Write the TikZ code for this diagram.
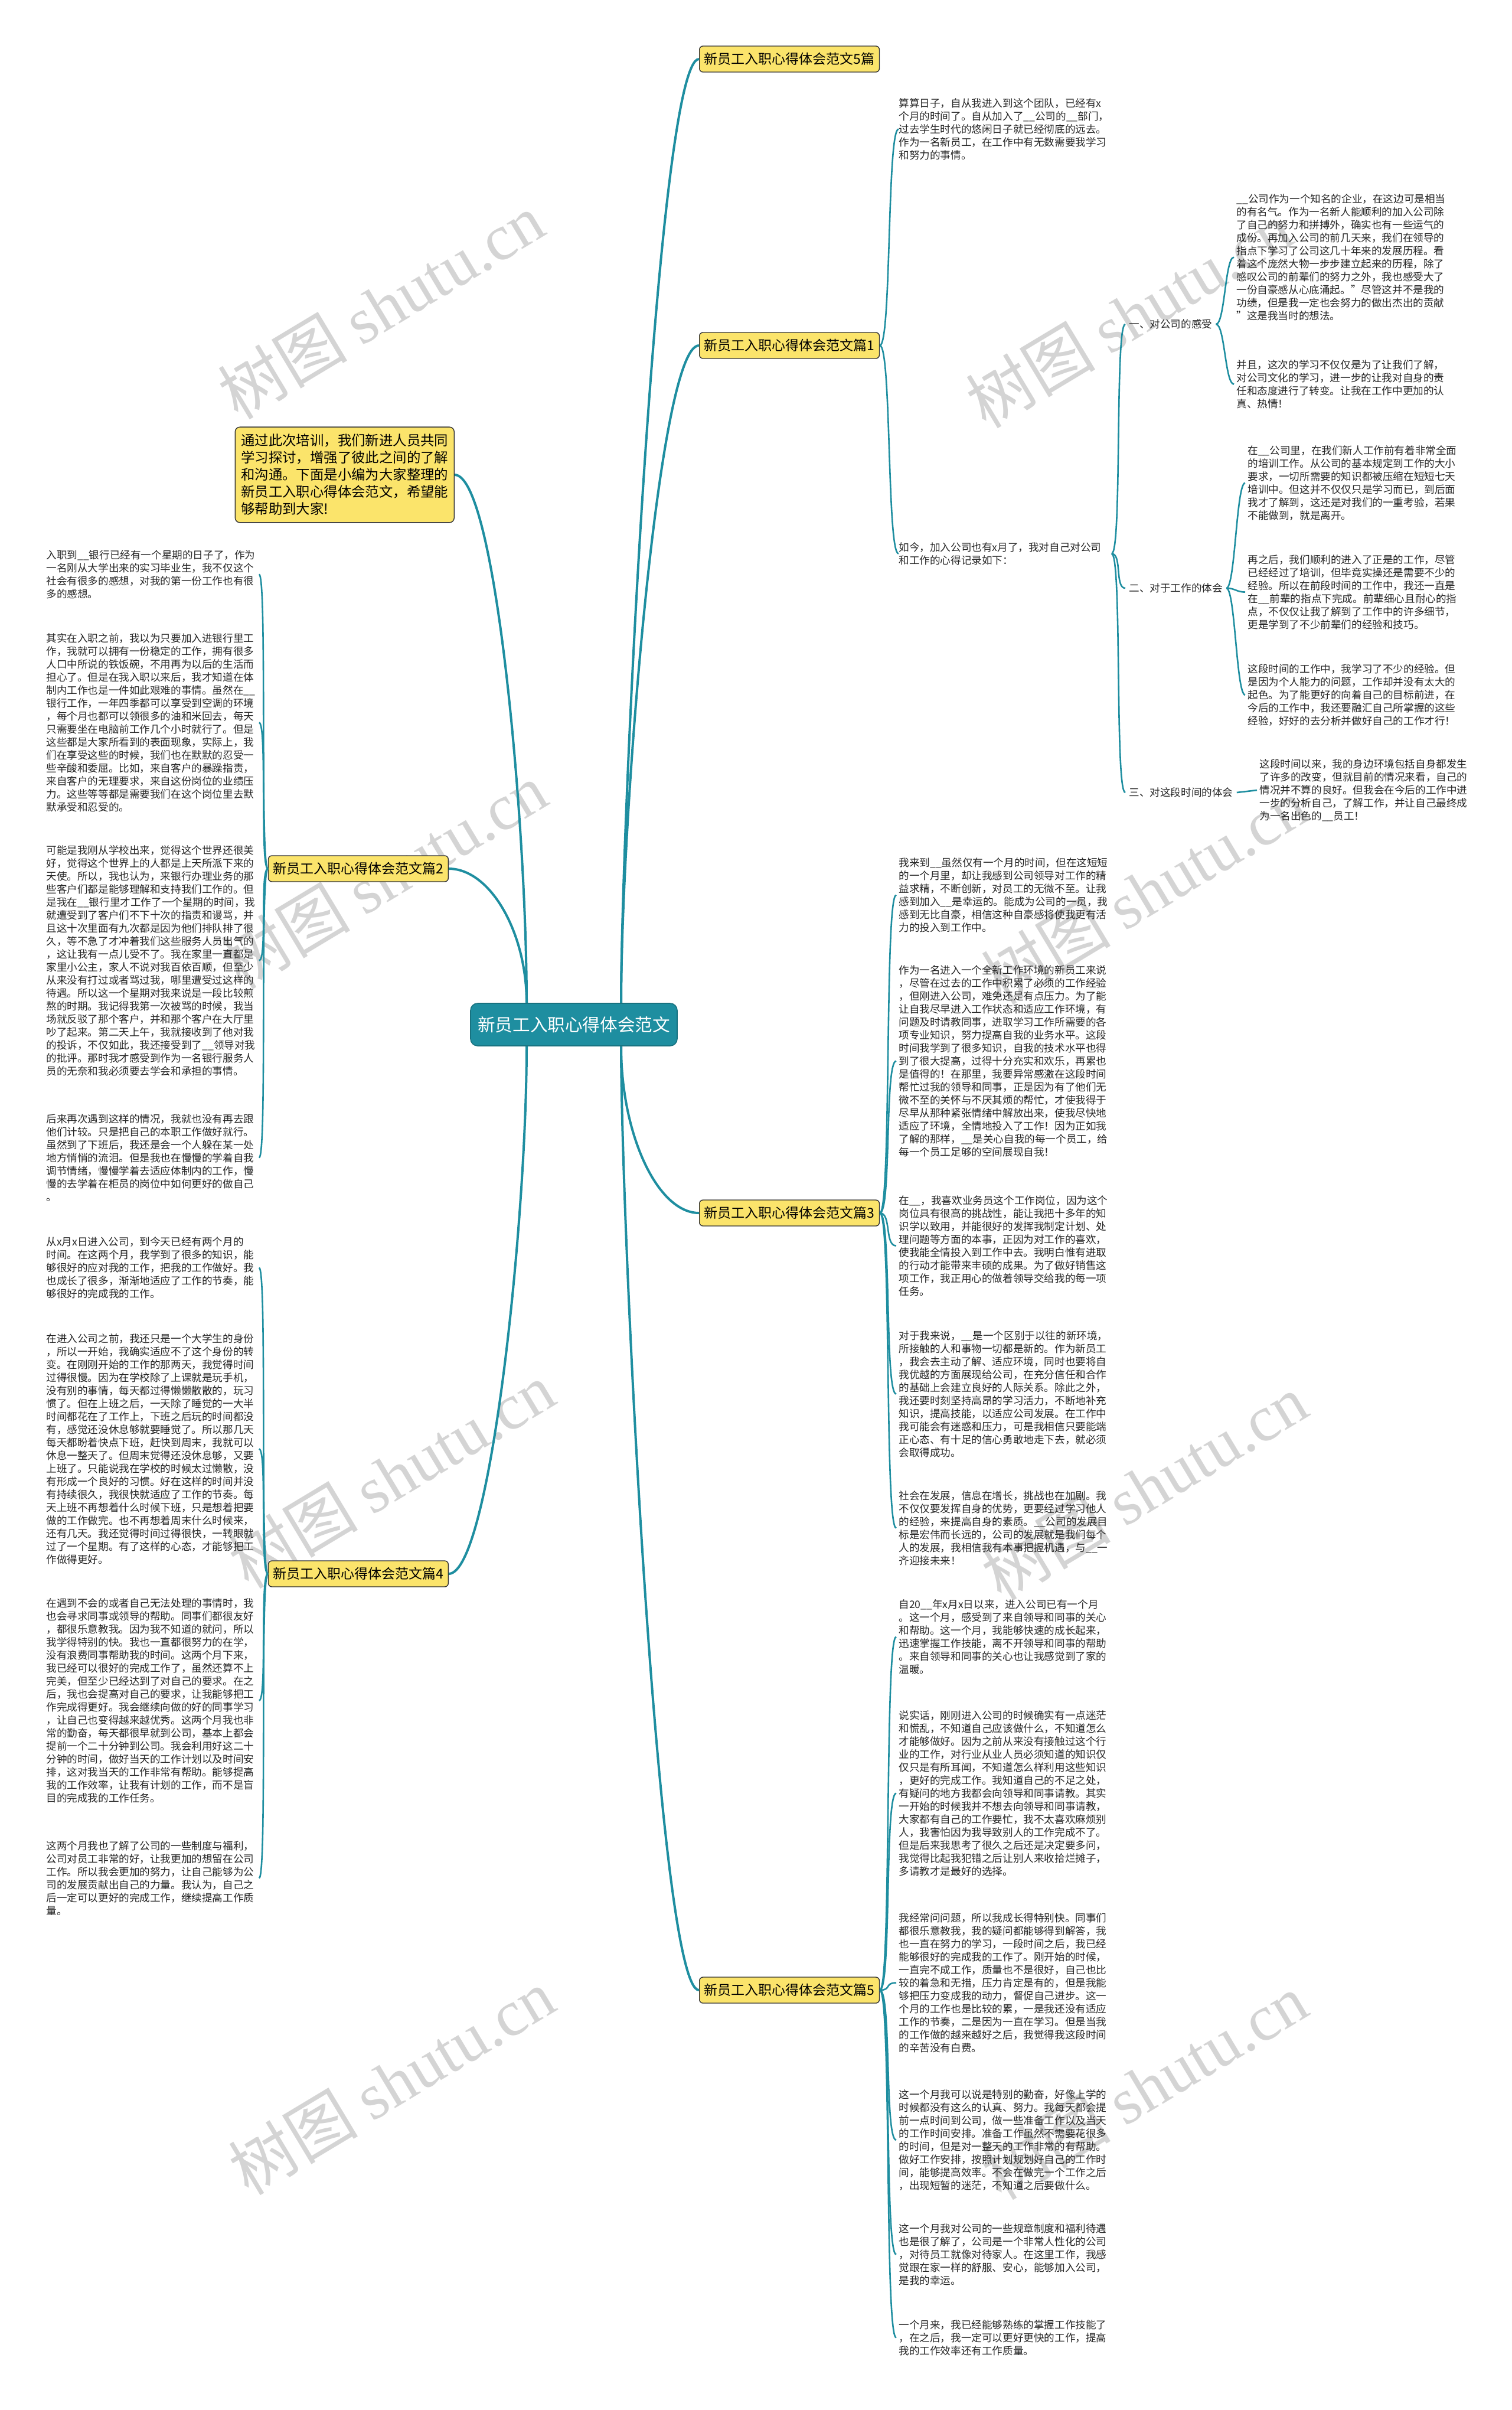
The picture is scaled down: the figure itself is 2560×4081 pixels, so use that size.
\documentclass[tikz,border=0pt]{standalone}
\usepackage{fontspec}
\setmainfont{Noto Sans CJK SC}
\newfontfamily\wmlatin{Liberation Serif}
\definecolor{teal1}{RGB}{30,142,160}
\definecolor{ylw}{RGB}{251,228,107}
\definecolor{wm}{RGB}{212,212,212}
\begin{document}
\begin{tikzpicture}[x=0.5pt,y=-0.5pt,
  body/.style={inner sep=0pt, anchor=north west, align=left, text width=178pt, font=\fontsize{8.8pt}{11pt}\selectfont, text=black!85},
  lbl/.style={inner sep=0pt, anchor=west, font=\fontsize{8.8pt}{11pt}\selectfont, text=black!85},
  branch/.style={draw=black!80, line width=0.7pt, fill=ylw, rounded corners=3pt, inner xsep=4pt, inner ysep=0pt, minimum height=22pt, font=\fontsize{11.5pt}{13pt}\selectfont},
  conn/.style={draw=teal1, line width=1.3pt},
  mainconn/.style={draw=teal1, line width=2pt},
  wmark/.style={text=wm, rotate=31, font=\fontsize{55pt}{55pt}\selectfont}
]
\useasboundingbox (0,0) rectangle (2560,4081);
\fill[white] (0,0) rectangle (2560,4081);
% watermarks
\foreach \wx/\wy [count=\i] in {645/518,1912/533,650/1483,1938/1509,663/2498,1938/2518,663/3525,1938/3533}
  \node[wmark] (wm\i) at (\wx,\wy) {树图 {\wmlatin shutu.cn}};

% center
\node[fill=teal1, draw=teal1!80!black, line width=0.8pt, text=white, rounded corners=6pt, minimum width=175pt, minimum height=36pt, font=\fontsize{14.8pt}{16pt}\selectfont] (c) at (972,1735) {新员工入职心得体会范文};

% branches
\node[branch, anchor=west] (b0) at (1184,100) {新员工入职心得体会范文5篇};
\node[branch, anchor=west] (b1) at (1184,585) {新员工入职心得体会范文篇1};
\node[branch, anchor=east] (b2) at (760,1471) {新员工入职心得体会范文篇2};
\node[branch, anchor=west] (b3) at (1184,2054) {新员工入职心得体会范文篇3};
\node[branch, anchor=east] (b4) at (760,2665) {新员工入职心得体会范文篇4};
\node[branch, anchor=west] (b5) at (1184,3370) {新员工入职心得体会范文篇5};
\node[draw=black!80, line width=0.7pt, fill=ylw, rounded corners=4pt, inner xsep=5pt, inner ysep=6pt, anchor=east, align=left, font=\fontsize{11.7pt}{14.5pt}\selectfont] (intro) at (770,804) {通过此次培训，我们新进人员共同\\学习探讨，增强了彼此之间的了解\\和沟通。下面是小编为大家整理的\\新员工入职心得体会范文，希望能\\够帮助到大家!};

% branch 1
\node[body] (r1a) at (1522,166) {算算日子，自从我进入到这个团队，已经有x\\个月的时间了。自从加入了\_\_公司的\_\_部门，\\过去学生时代的悠闲日子就已经彻底的远去。\\作为一名新员工，在工作中有无数需要我学习\\和努力的事情。};
\node[body] (rj) at (1522,918) {如今，加入公司也有x月了，我对自己对公司\\和工作的心得记录如下：};
\node[lbl] (la) at (1912,549) {一、对公司的感受};
\node[lbl] (lb) at (1912,996) {二、对于工作的体会};
\node[lbl] (lc) at (1912,1342) {三、对这段时间的体会};
\node[body] (ta) at (2094,328) {\_\_公司作为一个知名的企业，在这边可是相当\\的有名气。作为一名新人能顺利的加入公司除\\了自己的努力和拼搏外，确实也有一些运气的\\成份。再加入公司的前几天来，我们在领导的\\指点下学习了公司这几十年来的发展历程。看\\着这个庞然大物一步步建立起来的历程，除了\\感叹公司的前辈们的努力之外，我也感受大了\\一份自豪感从心底涌起。"尽管这并不是我的\\功绩，但是我一定也会努力的做出杰出的贡献\\"这是我当时的想法。};
\node[body] (tb) at (2094,609) {并且，这次的学习不仅仅是为了让我们了解，\\对公司文化的学习，进一步的让我对自身的责\\任和态度进行了转变。让我在工作中更加的认\\真、热情！};
\node[body] (tc) at (2113,754) {在\_\_公司里，在我们新人工作前有着非常全面\\的培训工作。从公司的基本规定到工作的大小\\要求，一切所需要的知识都被压缩在短短七天\\培训中。但这并不仅仅只是学习而已，到后面\\我才了解到，这还是对我们的一重考验，若果\\不能做到，就是离开。};
\node[body] (td) at (2113,939) {再之后，我们顺利的进入了正是的工作，尽管\\已经经过了培训，但毕竟实操还是需要不少的\\经验。所以在前段时间的工作中，我还一直是\\在\_\_前辈的指点下完成。前辈细心且耐心的指\\点，不仅仅让我了解到了工作中的许多细节，\\更是学到了不少前辈们的经验和技巧。};
\node[body] (te) at (2113,1124) {这段时间的工作中，我学习了不少的经验。但\\是因为个人能力的问题，工作却并没有太大的\\起色。为了能更好的向着自己的目标前进，在\\今后的工作中，我还要融汇自己所掌握的这些\\经验，好好的去分析并做好自己的工作才行！};
\node[body] (tf) at (2133,1285) {这段时间以来，我的身边环境包括自身都发生\\了许多的改变，但就目前的情况来看，自己的\\情况并不算的良好。但我会在今后的工作中进\\一步的分析自己，了解工作，并让自己最终成\\为一名出色的\_\_员工！};

% branch 2
\node[body] (l1) at (78,931) {入职到\_\_银行已经有一个星期的日子了，作为\\一名刚从大学出来的实习毕业生，我不仅这个\\社会有很多的感想，对我的第一份工作也有很\\多的感想。};
\node[body] (l2) at (78,1072) {其实在入职之前，我以为只要加入进银行里工\\作，我就可以拥有一份稳定的工作，拥有很多\\人口中所说的铁饭碗，不用再为以后的生活而\\担心了。但是在我入职以来后，我才知道在体\\制内工作也是一件如此艰难的事情。虽然在\_\_\\银行工作，一年四季都可以享受到空调的环境\\，每个月也都可以领很多的油和米回去，每天\\只需要坐在电脑前工作几个小时就行了。但是\\这些都是大家所看到的表面现象，实际上，我\\们在享受这些的时候，我们也在默默的忍受一\\些辛酸和委屈。比如，来自客户的暴躁指责，\\来自客户的无理要求，来自这份岗位的业绩压\\力。这些等等都是需要我们在这个岗位里去默\\默承受和忍受的。};
\node[body] (l3) at (78,1431) {可能是我刚从学校出来，觉得这个世界还很美\\好，觉得这个世界上的人都是上天所派下来的\\天使。所以，我也认为，来银行办理业务的那\\些客户们都是能够理解和支持我们工作的。但\\是我在\_\_银行里才工作了一个星期的时间，我\\就遭受到了客户们不下十次的指责和谩骂，并\\且这十次里面有九次都是因为他们排队排了很\\久，等不急了才冲着我们这些服务人员出气的\\，这让我有一点儿受不了。我在家里一直都是\\家里小公主，家人不说对我百依百顺，但至少\\从来没有打过或者骂过我，哪里遭受过这样的\\待遇。所以这一个星期对我来说是一段比较煎\\熬的时期。我记得我第一次被骂的时候，我当\\场就反驳了那个客户，并和那个客户在大厅里\\吵了起来。第二天上午，我就接收到了他对我\\的投诉，不仅如此，我还接受到了\_\_领导对我\\的批评。那时我才感受到作为一名银行服务人\\员的无奈和我必须要去学会和承担的事情。};
\node[body] (l4) at (78,1886) {后来再次遇到这样的情况，我就也没有再去跟\\他们计较。只是把自己的本职工作做好就行。\\虽然到了下班后，我还是会一个人躲在某一处\\地方悄悄的流泪。但是我也在慢慢的学着自我\\调节情绪，慢慢学着去适应体制内的工作，慢\\慢的去学着在柜员的岗位中如何更好的做自己\\。};

% branch 4
\node[body] (l5) at (78,2094) {从x月x日进入公司，到今天已经有两个月的\\时间。在这两个月，我学到了很多的知识，能\\够很好的应对我的工作，把我的工作做好。我\\也成长了很多，渐渐地适应了工作的节奏，能\\够很好的完成我的工作。};
\node[body] (l6) at (78,2258) {在进入公司之前，我还只是一个大学生的身份\\，所以一开始，我确实适应不了这个身份的转\\变。在刚刚开始的工作的那两天，我觉得时间\\过得很慢。因为在学校除了上课就是玩手机，\\没有别的事情，每天都过得懒懒散散的，玩习\\惯了。但在上班之后，一天除了睡觉的一大半\\时间都花在了工作上，下班之后玩的时间都没\\有，感觉还没休息够就要睡觉了。所以那几天\\每天都盼着快点下班，赶快到周末，我就可以\\休息一整天了。但周末觉得还没休息够，又要\\上班了。只能说我在学校的时候太过懒散，没\\有形成一个良好的习惯。好在这样的时间并没\\有持续很久，我很快就适应了工作的节奏。每\\天上班不再想着什么时候下班，只是想着把要\\做的工作做完。也不再想着周末什么时候来，\\还有几天。我还觉得时间过得很快，一转眼就\\过了一个星期。有了这样的心态，才能够把工\\作做得更好。};
\node[body] (l7) at (78,2706) {在遇到不会的或者自己无法处理的事情时，我\\也会寻求同事或领导的帮助。同事们都很友好\\，都很乐意教我。因为我不知道的就问，所以\\我学得特别的快。我也一直都很努力的在学，\\没有浪费同事帮助我的时间。这两个月下来，\\我已经可以很好的完成工作了，虽然还算不上\\完美，但至少已经达到了对自己的要求。在之\\后，我也会提高对自己的要求，让我能够把工\\作完成得更好。我会继续向做的好的同事学习\\，让自己也变得越来越优秀。这两个月我也非\\常的勤奋，每天都很早就到公司，基本上都会\\提前一个二十分钟到公司。我会利用好这二十\\分钟的时间，做好当天的工作计划以及时间安\\排，这对我当天的工作非常有帮助。能够提高\\我的工作效率，让我有计划的工作，而不是盲\\目的完成我的工作任务。};
\node[body] (l8) at (78,3117) {这两个月我也了解了公司的一些制度与福利，\\公司对员工非常的好，让我更加的想留在公司\\工作。所以我会更加的努力，让自己能够为公\\司的发展贡献出自己的力量。我认为，自己之\\后一定可以更好的完成工作，继续提高工作质\\量。};

% branch 3
\node[body] (r3a) at (1522,1452) {我来到\_\_虽然仅有一个月的时间，但在这短短\\的一个月里，却让我感到公司领导对工作的精\\益求精，不断创新，对员工的无微不至。让我\\感到加入\_\_是幸运的。能成为公司的一员，我\\感到无比自豪，相信这种自豪感将使我更有活\\力的投入到工作中。};
\node[body] (r3b) at (1522,1634) {作为一名进入一个全新工作环境的新员工来说\\，尽管在过去的工作中积累了必须的工作经验\\，但刚进入公司，难免还是有点压力。为了能\\让自我尽早进入工作状态和适应工作环境，有\\问题及时请教同事，进取学习工作所需要的各\\项专业知识，努力提高自我的业务水平。这段\\时间我学到了很多知识，自我的技术水平也得\\到了很大提高，过得十分充实和欢乐，再累也\\是值得的！在那里，我要异常感激在这段时间\\帮忙过我的领导和同事，正是因为有了他们无\\微不至的关怀与不厌其烦的帮忙，才使我得于\\尽早从那种紧张情绪中解放出来，使我尽快地\\适应了环境，全情地投入了工作！因为正如我\\了解的那样，\_\_是关心自我的每一个员工，给\\每一个员工足够的空间展现自我！};
\node[body] (r3c) at (1522,2024) {在\_\_，我喜欢业务员这个工作岗位，因为这个\\岗位具有很高的挑战性，能让我把十多年的知\\识学以致用，并能很好的发挥我制定计划、处\\理问题等方面的本事，正因为对工作的喜欢，\\使我能全情投入到工作中去。我明白惟有进取\\的行动才能带来丰硕的成果。为了做好销售这\\项工作，我正用心的做着领导交给我的每一项\\任务。};
\node[body] (r3d) at (1522,2253) {对于我来说，\_\_是一个区别于以往的新环境，\\所接触的人和事物一切都是新的。作为新员工\\，我会去主动了解、适应环境，同时也要将自\\我优越的方面展现给公司，在充分信任和合作\\的基础上会建立良好的人际关系。除此之外，\\我还要时刻坚持高昂的学习活力，不断地补充\\知识，提高技能，以适应公司发展。在工作中\\我可能会有迷惑和压力，可是我相信只要能端\\正心态、有十足的信心勇敢地走下去，就必须\\会取得成功。};
\node[body] (r3e) at (1522,2524) {社会在发展，信息在增长，挑战也在加剧。我\\不仅仅要发挥自身的优势，更要经过学习他人\\的经验，来提高自身的素质。\_\_公司的发展目\\标是宏伟而长远的，公司的发展就是我们每个\\人的发展，我相信我有本事把握机遇，与\_\_一\\齐迎接未来！};

% branch 5
\node[body] (r5a) at (1522,2708) {自20\_\_年x月x日以来，进入公司已有一个月\\。这一个月，感受到了来自领导和同事的关心\\和帮助。这一个月，我能够快速的成长起来，\\迅速掌握工作技能，离不开领导和同事的帮助\\。来自领导和同事的关心也让我感觉到了家的\\温暖。};
\node[body] (r5b) at (1522,2896) {说实话，刚刚进入公司的时候确实有一点迷茫\\和慌乱，不知道自己应该做什么，不知道怎么\\才能够做好。因为之前从来没有接触过这个行\\业的工作，对行业从业人员必须知道的知识仅\\仅只是有所耳闻，不知道怎么样利用这些知识\\，更好的完成工作。我知道自己的不足之处，\\有疑问的地方我都会向领导和同事请教。其实\\一开始的时候我并不想去向领导和同事请教，\\大家都有自己的工作要忙，我不太喜欢麻烦别\\人，我害怕因为我导致别人的工作完成不了。\\但是后来我思考了很久之后还是决定要多问，\\我觉得比起我犯错之后让别人来收拾烂摊子，\\多请教才是最好的选择。};
\node[body] (r5c) at (1522,3239) {我经常问问题，所以我成长得特别快。同事们\\都很乐意教我，我的疑问都能够得到解答，我\\也一直在努力的学习，一段时间之后，我已经\\能够很好的完成我的工作了。刚开始的时候，\\一直完不成工作，质量也不是很好，自己也比\\较的着急和无措，压力肯定是有的，但是我能\\够把压力变成我的动力，督促自己进步。这一\\个月的工作也是比较的累，一是我还没有适应\\工作的节奏，二是因为一直在学习。但是当我\\的工作做的越来越好之后，我觉得我这段时间\\的辛苦没有白费。};
\node[body] (r5d) at (1522,3538) {这一个月我可以说是特别的勤奋，好像上学的\\时候都没有这么的认真、努力。我每天都会提\\前一点时间到公司，做一些准备工作以及当天\\的工作时间安排。准备工作虽然不需要花很多\\的时间，但是对一整天的工作非常的有帮助。\\做好工作安排，按照计划规划好自己的工作时\\间，能够提高效率。不会在做完一个工作之后\\，出现短暂的迷茫，不知道之后要做什么。};
\node[body] (r5e) at (1522,3765) {这一个月我对公司的一些规章制度和福利待遇\\也是很了解了，公司是一个非常人性化的公司\\，对待员工就像对待家人。在这里工作，我感\\觉跟在家一样的舒服、安心，能够加入公司，\\是我的幸运。};
\node[body] (r5f) at (1522,3928) {一个月来，我已经能够熟练的掌握工作技能了\\，在之后，我一定可以更好更快的工作，提高\\我的工作效率还有工作质量。};

% main connectors
\draw[mainconn] ([xshift=40pt]c.north) .. controls +(0,-300) and +(-70,0) .. (b0.west);
\draw[mainconn] ([xshift=40pt]c.north) .. controls +(0,-300) and +(-70,0) .. (b1.west);
\draw[mainconn] ([xshift=40pt]c.south) .. controls +(0,150) and +(-70,0) .. (b3.west);
\draw[mainconn] ([xshift=40pt]c.south) .. controls +(0,300) and +(-70,0) .. (b5.west);
\draw[mainconn] ([xshift=-40pt]c.north) .. controls +(0,-300) and +(70,0) .. (intro.east);
\draw[mainconn] ([xshift=-40pt]c.north) .. controls +(0,-120) and +(70,0) .. (b2.east);
\draw[mainconn] ([xshift=-40pt]c.south) .. controls +(0,300) and +(70,0) .. (b4.east);

% sub connectors right
\foreach \t in {r1a,rj}
  \draw[conn] (b1.east) .. controls +(20,0) and +(-20,0) .. (\t.west);
\foreach \t in {la,lb,lc}
  \draw[conn] ([xshift=2pt]rj.east) .. controls +(18,0) and +(-18,0) .. ([xshift=-3pt]\t.west);
\foreach \t in {ta,tb}
  \draw[conn] ([xshift=3pt]la.east) .. controls +(15,0) and +(-15,0) .. ([xshift=-2pt]\t.west);
\foreach \t in {tc,td,te}
  \draw[conn] ([xshift=3pt]lb.east) .. controls +(15,0) and +(-15,0) .. ([xshift=-2pt]\t.west);
\draw[conn] ([xshift=3pt]lc.east) -- ([xshift=-2pt]tf.west);
\foreach \t in {r3a,r3b,r3c,r3d,r3e}
  \draw[conn] (b3.east) .. controls +(20,0) and +(-20,0) .. ([xshift=-2pt]\t.west);
\foreach \t in {r5a,r5b,r5c,r5d,r5e,r5f}
  \draw[conn] (b5.east) .. controls +(20,0) and +(-20,0) .. ([xshift=-2pt]\t.west);
% sub connectors left
\foreach \t in {l1,l2,l3,l4}
  \draw[conn] (b2.west) .. controls +(-14,0) and +(14,0) .. ([xshift=2pt]\t.east);
\foreach \t in {l5,l6,l7,l8}
  \draw[conn] (b4.west) .. controls +(-14,0) and +(14,0) .. ([xshift=2pt]\t.east);
\end{tikzpicture}
\end{document}
